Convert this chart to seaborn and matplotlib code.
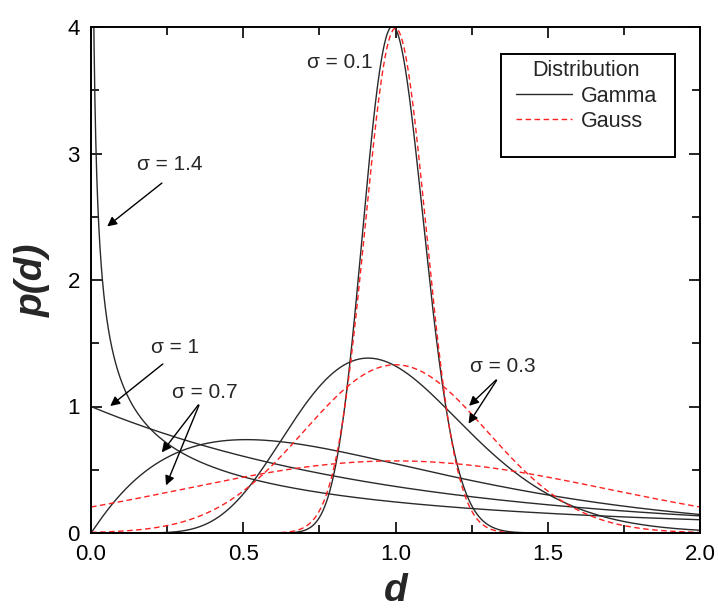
import math
import numpy as np
import pandas as pd
import matplotlib
matplotlib.use("Agg")
import matplotlib.pyplot as plt
from matplotlib.lines import Line2D
from matplotlib.patches import Rectangle
import seaborn as sns

# Width parameters of the distributions (all have mean 1)
gamma_sigmas = [0.1, 0.3, 0.7, 1.0, 1.4]
gauss_sigmas = [0.1, 0.3, 0.7]
mean_d = 1.0

x_ticks = [0.0, 0.5, 1.0, 1.5, 2.0]
y_ticks = [0, 1, 2, 3, 4]

d = np.linspace(1e-4, 2.0, 3000)


def gamma_pdf(x, mu, s):
    k = (mu / s) ** 2
    theta = s ** 2 / mu
    logp = (k - 1) * np.log(x) - x / theta - math.lgamma(k) - k * math.log(theta)
    return np.exp(logp)


def gauss_pdf(x, mu, s):
    return np.exp(-0.5 * ((x - mu) / s) ** 2) / (s * math.sqrt(2 * math.pi))


frames = []
for s in gamma_sigmas:
    frames.append(pd.DataFrame({"d": d, "p": gamma_pdf(d, mean_d, s),
                                "dist": "Gamma", "sigma": s}))
for s in gauss_sigmas:
    frames.append(pd.DataFrame({"d": d, "p": gauss_pdf(d, mean_d, s),
                                "dist": "Gauss", "sigma": s}))
df = pd.concat(frames, ignore_index=True)

sns.set_theme(style="ticks")
plt.rcParams["font.family"] = ["Liberation Sans", "DejaVu Sans"]

fig = plt.figure(figsize=(7.18, 6.12), dpi=100)
ax = fig.add_axes([91 / 718, 1 - 533 / 612, 609 / 718, 506 / 612])

styles = {"Gamma": dict(color="#2a2a2a", ls="-"),
          "Gauss": dict(color="#ff2020", ls=(0, (4, 2.5)))}

for (dist, s), g in df.groupby(["dist", "sigma"], sort=False):
    sns.lineplot(data=g, x="d", y="p", ax=ax, estimator=None, sort=False,
                 color=styles[dist]["color"], linestyle=styles[dist]["ls"],
                 linewidth=1.0, legend=False)

ax.set_xlim(0, 2.0)
ax.set_ylim(0, 4)
ax.set_xticks(x_ticks)
ax.set_xticklabels([f"{v:.1f}" for v in x_ticks])
ax.set_yticks(y_ticks)
ax.set_yticklabels([str(v) for v in y_ticks])
ax.set_xticks(np.arange(0.25, 2.0, 0.5), minor=True)
ax.set_yticks(np.arange(0.5, 4.0, 1.0), minor=True)
ax.tick_params(which="both", top=True, right=True, direction="in",
               labelsize=16, width=1.2, colors="black")
ax.tick_params(which="major", length=8, pad=8)
ax.tick_params(which="minor", length=6)
for sp in ax.spines.values():
    sp.set_linewidth(1.4)
    sp.set_color("black")

ax.set_xlabel("d", fontsize=28, fontweight="bold", style="italic", labelpad=6)
ax.set_ylabel("p(d)", fontsize=28, fontweight="bold", style="italic", labelpad=12)

# Legend for the two distribution families, inside a framed box
handles = [Line2D([], [], color=styles["Gamma"]["color"], ls="-", lw=1.0),
           Line2D([], [], color=styles["Gauss"]["color"], ls=styles["Gauss"]["ls"], lw=1.0)]
leg = ax.legend(handles, ["Gamma", "Gauss"], title="Distribution",
                loc="upper right", bbox_to_anchor=(0.929, 0.934),
                fontsize=15.5, title_fontsize=15.5, frameon=False,
                borderpad=0, handlelength=2.6, handletextpad=0.4,
                labelspacing=0.2, borderaxespad=0)
ax.add_patch(Rectangle((0.673, 0.743), 0.959 - 0.673, 0.9466 - 0.743,
                       transform=ax.transAxes, fill=False, edgecolor="black",
                       linewidth=1.4, zorder=5))

# Labels for each width
arrow = dict(arrowstyle="-|>", color="black", lw=1.0, mutation_scale=14)
fs = 15
ax.text(0.818, 3.72, "σ = 0.1", fontsize=fs, ha="center", va="center")
ax.annotate("", xy=(0.046, 2.41), xytext=(0.24, 2.78), arrowprops=arrow)
ax.text(0.26, 2.91, "σ = 1.4", fontsize=fs, ha="center", va="center")
ax.annotate("", xy=(0.056, 0.99), xytext=(0.243, 1.35), arrowprops=arrow)
ax.text(0.276, 1.47, "σ = 1", fontsize=fs, ha="center", va="center")
ax.annotate("", xy=(0.227, 0.62), xytext=(0.358, 1.03), arrowprops=arrow)
ax.annotate("", xy=(0.243, 0.356), xytext=(0.358, 1.03), arrowprops=arrow)
ax.text(0.374, 1.11, "σ = 0.7", fontsize=fs, ha="center", va="center")
ax.annotate("", xy=(1.235, 0.99), xytext=(1.337, 1.225), arrowprops=arrow)
ax.annotate("", xy=(1.235, 0.846), xytext=(1.337, 1.225), arrowprops=arrow)
ax.text(1.353, 1.32, "σ = 0.3", fontsize=fs, ha="center", va="center")

fig.savefig("out.png", dpi=100)
